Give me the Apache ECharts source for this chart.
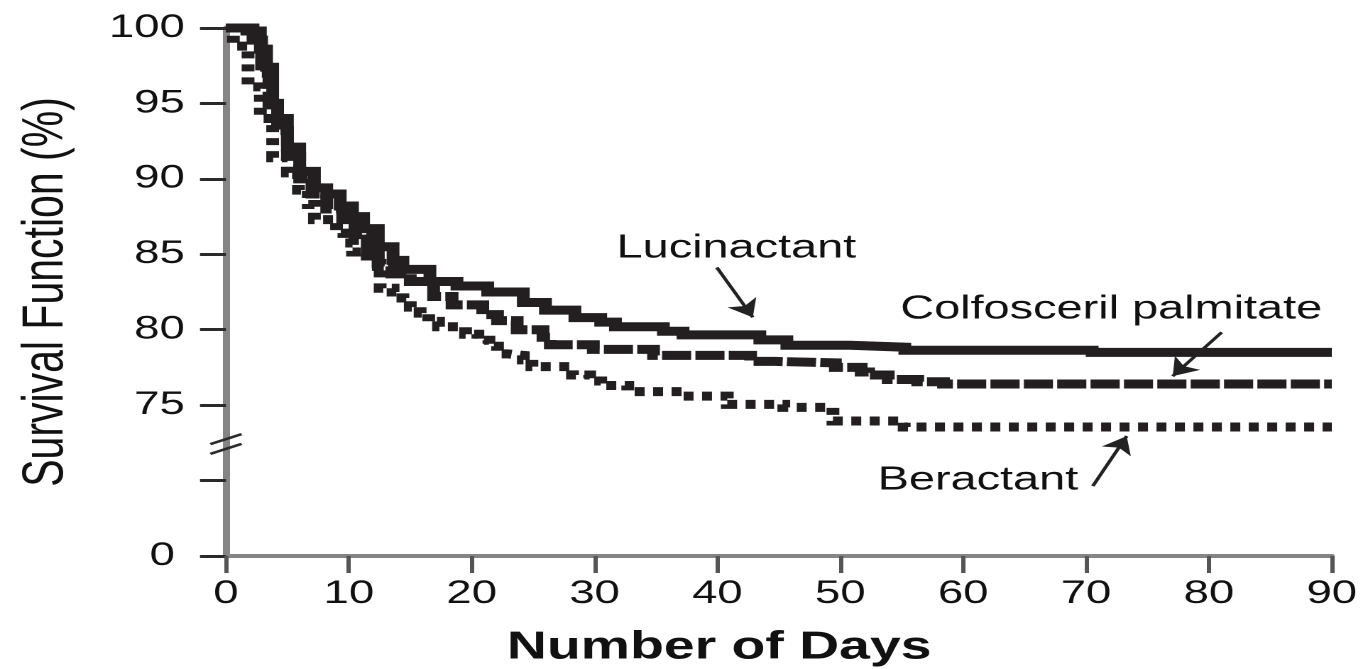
<!DOCTYPE html>
<html>
<head>
<meta charset="utf-8">
<script src="https://cdn.jsdelivr.net/npm/echarts@6/dist/echarts.min.js"></script>
<style>
html,body{margin:0;padding:0;background:#fff;overflow:hidden;width:1363px;height:669px;}
#chart{width:960px;height:669px;transform:scaleX(1.4198);transform-origin:0 0;}
</style>
</head>
<body>
<div id="chart"></div>
<script>
// ---- tick labels ----
const xTickValues = [0, 10, 20, 30, 40, 50, 60, 70, 80, 90];
const yTickValues = [65, 70, 75, 80, 85, 90, 95, 100];
const yTickLabels = ['0', '', '75', '80', '85', '90', '95', '100'];

// ---- series names ----
const seriesNames = ['Lucinactant', 'Colfosceril palmitate', 'Beractant'];

// ---- Lucinactant (solid) ----
const lucinactantDays = [0, 1.7, 2.8, 3.3, 3.8, 4.2, 5.0, 6.0, 7.2, 8.2, 9.3, 10.3, 11.2, 12.4, 13.6, 14.4, 16.6, 18.8, 21.3, 24.2, 26.0, 28.4, 30.5, 31.7, 35.6, 37.2, 43.45, 45.65, 50.8, 55.25, 70.5, 90];
const lucinactantSurv = [100, 99.8, 98.6, 97.4, 94.9, 94.0, 92.1, 90.5, 89.4, 89.0, 88.2, 87.5, 86.7, 85.5, 84.6, 84.0, 83.2, 82.9, 82.5, 81.8, 81.3, 80.8, 80.5, 80.2, 79.9, 79.66, 79.33, 78.97, 78.84, 78.64, 78.5, 78.5];

// ---- Colfosceril palmitate (dashed) ----
const colfoscerilDays = [0, 2.2, 2.9, 3.5, 4.2, 5.0, 6.0, 7.0, 8.2, 9.5, 10.5, 11.5, 12.4, 13.5, 15.0, 16.9, 18.4, 20.9, 22.1, 23.7, 25.8, 26.4, 29.9, 34.8, 42.7, 44.7, 49.6, 51.7, 52.3, 53.9, 56.3, 58.4, 90];
const colfoscerilSurv = [100, 99.2, 97.0, 95.0, 93.2, 91.5, 90.0, 89.0, 88.0, 87.3, 86.3, 85.3, 84.2, 83.7, 83.2, 82.2, 81.65, 81.0, 80.6, 80.0, 79.5, 79.0, 78.7, 78.3, 77.9, 77.8, 77.5, 77.2, 77.0, 76.7, 76.55, 76.4, 76.4];

// ---- Beractant (dotted) ----
const beractantDays = [0, 0.6, 1.8, 2.8, 3.8, 5.0, 5.9, 6.7, 7.2, 9.0, 9.6, 10.3, 11.5, 12.55, 13.6, 14.4, 15.0, 15.8, 16.5, 17.3, 19.5, 20.5, 21.4, 22.1, 22.9, 24.2, 24.9, 28.2, 29.6, 30.5, 32.7, 37.2, 40.8, 45.4, 49.4, 55.2, 90];
const beractantSurv = [100, 98.8, 96.1, 94.0, 91.4, 90.4, 89.25, 88.3, 87.3, 86.4, 85.75, 85.15, 84.4, 82.75, 82.5, 82.1, 81.5, 81.1, 80.55, 80.2, 79.7, 79.3, 78.9, 78.4, 78.3, 78.0, 77.55, 77.0, 76.6, 76.3, 75.9, 75.6, 75.05, 74.85, 73.95, 73.55, 73.55];

// ---- annotation anchors (data coordinates) ----
const labelPositions = [[41.54, 85.4], [72.05, 81.35], [61.2, 70.0]];
const arrowStarts = [[39.95, 84.13], [81.04, 79.83], [70.55, 69.64]];
const arrowEnds = [[42.88, 80.82], [77.05, 76.92], [73.31, 72.95]];
const breakMarkValues = [72.75, 72.1];

const FONT = "'Liberation Sans', Arial, Helvetica, sans-serif";
const INK = '#231f20';

function pairs(xs, ys) { return xs.map((x, i) => [x, ys[i]]); }

const seriesData = [
  pairs(lucinactantDays, lucinactantSurv),
  pairs(colfoscerilDays, colfoscerilSurv),
  pairs(beractantDays, beractantSurv)
];
const dashTypes = ['solid', [20.5, 3], [7, 6]];

const chart = echarts.init(document.getElementById('chart'), null, {renderer: 'canvas', devicePixelRatio: 2});

const series = seriesNames.map((name, i) => ({
  name: name,
  type: 'line',
  step: 'end',
  showSymbol: false,
  symbol: 'none',
  clip: false,
  z: 3 - i,
  data: seriesData[i],
  lineStyle: {color: INK, width: 9, type: dashTypes[i], cap: 'butt', join: 'miter'},
  emphasis: {disabled: true},
  markPoint: {
    silent: true,
    symbol: 'circle',
    symbolSize: 1,
    itemStyle: {color: 'rgba(0,0,0,0)'},
    label: {show: true, position: 'inside', formatter: '{b}', color: '#111', fontSize: 33, fontFamily: FONT},
    data: [{name: name, coord: labelPositions[i]}]
  },
  markLine: {
    silent: true,
    symbol: ['none', 'arrow'],
    symbolSize: 17,
    label: {show: false},
    lineStyle: {type: 'solid', color: '#222', width: 2.6},
    data: [[{coord: arrowStarts[i]}, {coord: arrowEnds[i]}]]
  }
}));

const option = {
  animation: false,
  backgroundColor: '#ffffff',
  textStyle: {fontFamily: FONT},
  grid: {left: 159.15, right: 22, top: 28, bottom: 113, containLabel: false, outerBoundsMode: 'none'},
  xAxis: {
    type: 'value', min: xTickValues[0], max: xTickValues[xTickValues.length - 1], interval: 10,
    name: 'Number of Days', nameLocation: 'middle', nameGap: 72,
    nameTextStyle: {fontSize: 39, fontWeight: 'bold', color: '#111', fontFamily: FONT, padding: [0, 84, 0, 0]},
    axisLine: {show: true, lineStyle: {color: '#858585', width: 4}},
    axisTick: {show: true, inside: false, length: 17, lineStyle: {color: '#555', width: 3}},
    axisLabel: {show: true, margin: 22, fontSize: 32, color: '#111', fontFamily: FONT,
      formatter: v => xTickValues.includes(v) ? String(v) : ''},
    splitLine: {show: false}
  },
  yAxis: {
    type: 'value', min: yTickValues[0], max: yTickValues[yTickValues.length - 1], interval: 5,
    name: 'Survival Function (%)', nameLocation: 'middle', nameGap: 106,
    nameTextStyle: {fontSize: 41, color: '#111', fontFamily: FONT},
    axisLine: {show: true, lineStyle: {color: '#858585', width: 5}},
    axisTick: {show: true, inside: false, length: 18.3, lineStyle: {color: '#2a2a2a', width: 3}},
    axisLabel: {show: true, margin: 29, fontSize: 32, color: '#111', fontFamily: FONT,
      formatter: v => {
        const idx = yTickValues.indexOf(v);
        const t = idx >= 0 ? yTickLabels[idx] : '';
        return v === yTickValues[0] ? '{z|' + t + '}' : t;
      },
      rich: {z: {fontSize: 32, color: '#111', fontFamily: FONT, padding: [0, 7, 0, 0]}}
    },
    splitLine: {show: false}
  },
  series: series
};

chart.setOption(option);

// axis-break marks ("//") placed through the library's coordinate system
const breakGraphics = breakMarkValues.map(v => {
  const p = chart.convertToPixel({gridIndex: 0}, [0, v]);
  return {
    type: 'line', silent: true, z: 10,
    shape: {x1: p[0] - 11, y1: p[1] + 5, x2: p[0] + 11, y2: p[1] - 5},
    style: {stroke: '#2a2a2a', lineWidth: 2.5}
  };
});
chart.setOption({graphic: breakGraphics});
</script>
</body>
</html>
